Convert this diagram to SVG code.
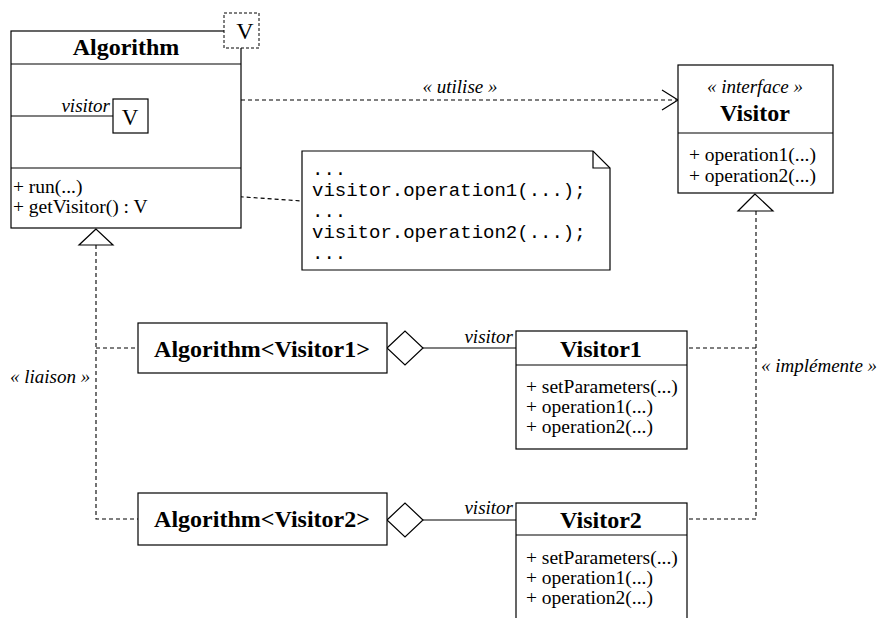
<svg xmlns="http://www.w3.org/2000/svg" width="880" height="618" viewBox="0 0 880 618">
<style>
.box{fill:#fff;stroke:#000;stroke-width:1.2}
.ln{fill:none;stroke:#000;stroke-width:1.2}
.dash{fill:none;stroke:#000;stroke-width:1.1;stroke-dasharray:4,3}
.t{font-family:"Liberation Serif","Times New Roman",serif;fill:#000}
.title{font-size:24px;font-weight:bold;text-anchor:middle}
.m{font-size:19.5px}
.it{font-size:19px;font-style:italic}
.mono{font-family:"Liberation Mono","Courier New",monospace;font-size:19px;fill:#000}
</style>
<rect width="880" height="618" fill="#fff"/>
<g id="connectors">
  <path class="dash" d="M241,100 H678"/>
  <path class="ln" d="M662,90 L678,100 L662,110"/>
  <path class="dash" d="M100,187 L302,201"/>
  <path class="dash" d="M96,245 V519 H138 M96,348 H138"/>
  <polygon class="box" points="96,229 79,245 113,245"/>
  <path class="dash" d="M756,211 V519 H687 M756,348 H687"/>
  <polygon class="box" points="755,194 738,211 773,211"/>
  <polygon class="box" points="387,348 405,331 423,348 405,365"/>
  <path class="ln" d="M423,348 H516"/>
  <polygon class="box" points="387,520 405,503 423,520 405,537"/>
  <path class="ln" d="M423,520 H516"/>
  <text class="t it" x="460" y="93" text-anchor="middle">« utilise »</text>
  <text class="t it" x="10" y="383">« liaison »</text>
  <text class="t it" x="761" y="372" font-size="18">« implémente »</text>
  <text class="t it" x="513" y="343" text-anchor="end">visitor</text>
  <text class="t it" x="513" y="514" text-anchor="end">visitor</text>
</g>
<g id="algorithm">
  <rect class="box" x="11" y="31" width="230" height="197"/>
  <path class="ln" d="M11,64 H241 M11,168 H241"/>
  <text class="t title" x="126" y="55">Algorithm</text>
  <rect x="224" y="13" width="35" height="35" fill="#fff" stroke="#000" stroke-width="1" stroke-dasharray="3,2"/>
  <text class="t" x="245" y="39" font-size="24" text-anchor="middle">V</text>
  <path class="ln" d="M11,116 H113"/>
  <rect class="box" x="113" y="99" width="35" height="34"/>
  <text class="t" x="130" y="125" font-size="23" text-anchor="middle">V</text>
  <text class="t it" x="110" y="112" text-anchor="end">visitor</text>
  <text class="t m" x="13" y="193">+ run(...)</text>
  <text class="t m" x="13" y="213">+ getVisitor() : V</text>
</g>
<g id="note">
  <path class="box" d="M302,151 H593 L610,168 V270 H302 Z"/>
  <path class="ln" d="M593,151 V168 H610" stroke-width="1"/>
  <text class="mono" x="312" y="175">...</text>
  <text class="mono" x="312" y="196">visitor.operation1(...);</text>
  <text class="mono" x="312" y="217">...</text>
  <text class="mono" x="312" y="238">visitor.operation2(...);</text>
  <text class="mono" x="312" y="259">...</text>
</g>
<g id="visitor">
  <rect class="box" x="678" y="65" width="155" height="128"/>
  <path class="ln" d="M678,133 H833"/>
  <text class="t it" x="755" y="93" text-anchor="middle">« interface »</text>
  <text class="t title" x="755" y="121">Visitor</text>
  <text class="t m" x="689" y="161">+ operation1(...)</text>
  <text class="t m" x="689" y="182">+ operation2(...)</text>
</g>
<g id="algorithm-visitor1">
  <rect class="box" x="138" y="323" width="249" height="50"/>
  <text class="t title" x="262" y="357">Algorithm&lt;Visitor1&gt;</text>
</g>
<g id="algorithm-visitor2">
  <rect class="box" x="138" y="493" width="249" height="52"/>
  <text class="t title" x="262" y="527">Algorithm&lt;Visitor2&gt;</text>
</g>
<g id="visitor1">
  <rect class="box" x="516" y="331" width="171" height="118"/>
  <path class="ln" d="M516,365 H687"/>
  <text class="t title" x="601" y="357">Visitor1</text>
  <text class="t m" x="526" y="393">+ setParameters(...)</text>
  <text class="t m" x="526" y="413">+ operation1(...)</text>
  <text class="t m" x="526" y="433">+ operation2(...)</text>
</g>
<g id="visitor2">
  <rect class="box" x="516" y="503" width="171" height="130"/>
  <path class="ln" d="M516,535 H687"/>
  <text class="t title" x="601" y="528">Visitor2</text>
  <text class="t m" x="526" y="564">+ setParameters(...)</text>
  <text class="t m" x="526" y="584">+ operation1(...)</text>
  <text class="t m" x="526" y="604">+ operation2(...)</text>
</g>
</svg>
